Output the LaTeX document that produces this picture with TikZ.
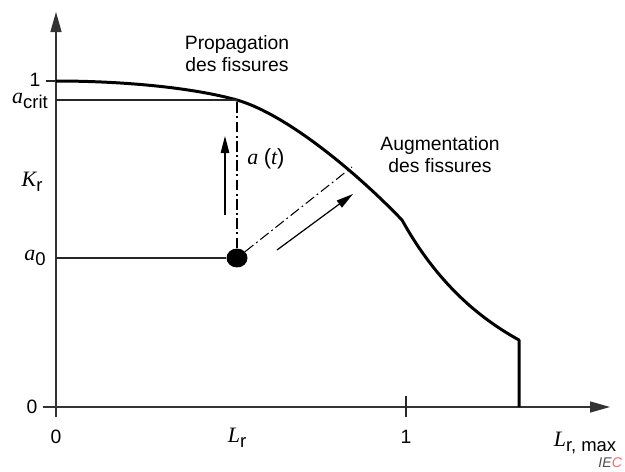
\documentclass[tikz,border=0pt]{standalone}
\usepackage{fontspec}
\setmainfont{Liberation Sans}
\newfontfamily\tms{Liberation Serif}
\usetikzlibrary{arrows.meta, positioning}
\newcommand{\vi}[1]{{\tms\itshape\fontsize{12.5}{14}\selectfont #1}}
\newcommand{\sym}[2]{\vi{#1}\raisebox{-3pt}{\fontsize{10.5}{12}\selectfont #2}}

\begin{document}
\begin{tikzpicture}[x=0.02cm, y=-0.02cm, font=\fontsize{11}{12.5}\selectfont,
	ax/.style={-{Triangle[length=0.4cm, width=0.22cm]}, line width=0.8pt, black!80},
	thin/.style={line width=0.6pt, black!85},
	dd/.style={line width=0.6pt, dash pattern=on 6pt off 2pt on 1pt off 2pt},
	fl/.style={-{Triangle[length=0.34cm, width=0.17cm]}, line width=0.7pt},
	curve/.style={line width=1.7pt, line join=round},
	lab/.style={inner sep=1pt}]

	\useasboundingbox (0,0) rectangle (625,471);

	% --- axes ---
	\coordinate (O) at (56,407);
	\coordinate (ybot) at (56,417);
	\coordinate (ytop) at (56,12);
	\coordinate (xleft) at (43,407);
	\coordinate (xright) at (610,407);
	\draw[ax] (ybot) -- (ytop);
	\draw[ax] (xleft) -- (xright);
	\draw[thin] (406,396) -- (406,417);
	\draw[thin] (46,81) -- (O |- 0,81);

	% --- courbe ---
	\coordinate (c0) at (56,81);
	\coordinate (crit) at (237,100);
	\coordinate (knee) at (402,220);
	\coordinate (cend) at (519,340);
	\draw[curve] (c0) .. controls (120,81) and (190,87) .. (crit)
		.. controls (287,114.5) and (357,173) .. (knee)
		.. controls (437,283) and (479,318) .. (cend) -- (cend |- O);

	% --- a(t) ---
	\node[circle, fill, inner sep=0pt, minimum width=0.42cm, yscale=0.9] (a0pt) at (237,258) {};
	\coordinate (slope) at (352,167);
	\draw[thin] (O |- crit) -- (crit);
	\draw[thin] (O |- a0pt) -- (a0pt);
	\draw[dd] (a0pt) -- (crit);
	\draw[dd] (a0pt) -- (slope);
	\draw[fl] (225,215) -- (225,136);
	\draw[fl] (277,250) -- (353,194);

	% --- textes ---
	\node[lab] (one) at (35,80) {1};
	\node[lab] (acrit) at (30,101) {\sym{a}{crit}};
	\node[lab] (kr) at (32,182) {\sym{K}{r}};
	\node[lab] (azero) at (35,258) {\sym{a}{0}};
	\node[lab] (yzero) at (32,407) {0};
	\node[lab] (xzero) at (56,437) {0};
	\node[lab] (lr) at (237,438) {\sym{L}{r}};
	\node[lab] (xone) at (406,437) {1};
	\node[lab] (lrmax) at (585,443) {\sym{L}{r, max}};
	\node[lab] (at) at (266,159) {\vi{a} {\fontsize{12.5}{14}\selectfont(}\vi{t}{\fontsize{12.5}{14}\selectfont)}};
	\node[lab, align=center] (prop) at (237,54) {Propagation\\des fissures};
	\node[lab, align=center] (augm) at (440,155) {Augmentation\\des fissures};
	\node[lab, anchor=east, font=\fontsize{8}{9}\selectfont\itshape, text=black!70] (iec) at (624,463) {IE\textcolor{red!60}{C}};
\end{tikzpicture}
\end{document}
